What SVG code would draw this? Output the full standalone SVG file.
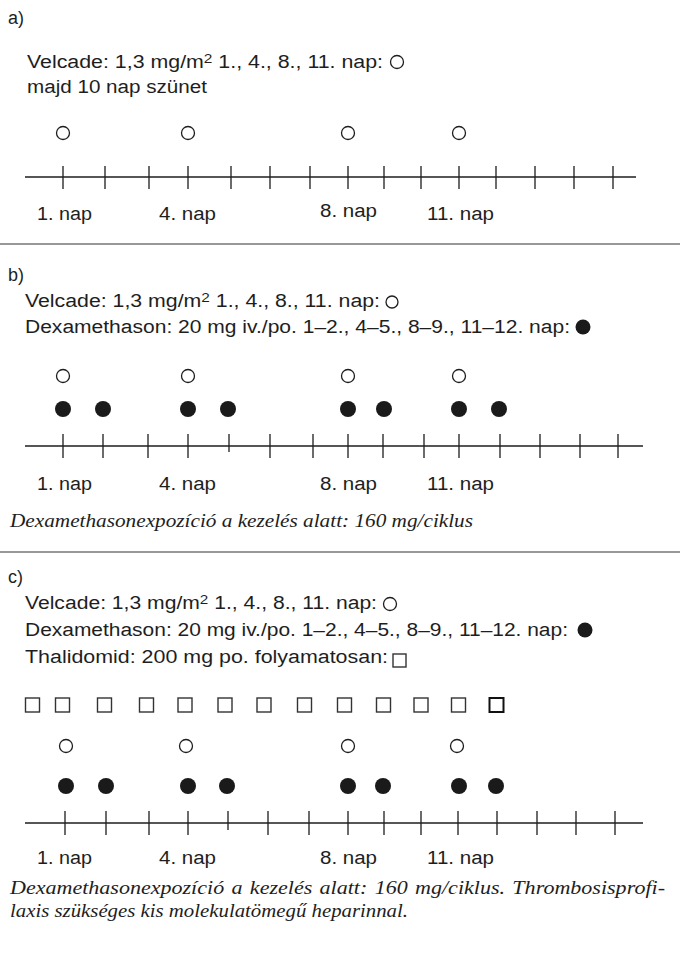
<svg xmlns="http://www.w3.org/2000/svg" width="680" height="956" viewBox="0 0 680 956">
<defs>
<style>
.t{font-family:"Liberation Sans","DejaVu Sans",sans-serif;font-size:18px;fill:#1e1e1e}
.lab{font-family:"Liberation Sans","DejaVu Sans",sans-serif;font-size:18px;fill:#1e1e1e}
.it{font-family:"Liberation Serif","DejaVu Serif",serif;font-style:italic;font-size:18px;fill:#1e1e1e}
.sup{font-size:13px}
.axis{stroke:#1e1e1e;stroke-width:1.3;fill:none}
.sep{stroke:#333;stroke-width:1.2}
.oc{fill:#fff;stroke:#1e1e1e;stroke-width:1.3}
.fc{fill:#1a1a1a}
.sq{fill:#fff;stroke:#333;stroke-width:1.4}
</style>
</defs>
<rect width="680" height="956" fill="#fff"/>

<!-- Panel a -->
<g id="panel-a">
<text class="t" x="8" y="24">a)</text>
<text class="t" x="27" y="68" textLength="356" lengthAdjust="spacingAndGlyphs">Velcade: 1,3 mg/m<tspan class="sup" dy="-5">2</tspan><tspan dy="5"> 1., 4., 8., 11. nap:</tspan></text>
<circle class="oc" cx="397" cy="62" r="6.5"/>
<text class="t" x="27" y="93" textLength="180" lengthAdjust="spacingAndGlyphs">majd 10 nap szünet</text>
<g id="a-velcade">
<circle class="oc" cx="63" cy="133" r="6.5"/>
<circle class="oc" cx="188" cy="133" r="6.5"/>
<circle class="oc" cx="348" cy="133" r="6.5"/>
<circle class="oc" cx="459" cy="133" r="6.5"/>
</g>
<g id="a-axis">
<line class="axis" x1="25" y1="177" x2="636" y2="177"/>
<path class="axis" d="M63,166V189M105,166V189M149,166V189M188,166V189M231,166V189M270,166V189M310,166V189M348,166V189M384,166V189M421,166V189M459,166V189M496,166V189M535,166V189M574,166V189M613,166V189"/>
</g>
<text class="lab" x="37" y="220" textLength="55" lengthAdjust="spacingAndGlyphs">1. nap</text>
<text class="lab" x="159" y="220" textLength="57" lengthAdjust="spacingAndGlyphs">4. nap</text>
<text class="lab" x="320" y="217" textLength="57" lengthAdjust="spacingAndGlyphs">8. nap</text>
<text class="lab" x="427" y="220" textLength="67" lengthAdjust="spacingAndGlyphs">11. nap</text>
</g>

<line class="sep" x1="0" y1="244" x2="680" y2="244"/>

<!-- Panel b -->
<g id="panel-b">
<text class="t" x="8" y="281">b)</text>
<text class="t" x="25" y="307" textLength="355" lengthAdjust="spacingAndGlyphs">Velcade: 1,3 mg/m<tspan class="sup" dy="-5">2</tspan><tspan dy="5"> 1., 4., 8., 11. nap:</tspan></text>
<circle class="oc" cx="392" cy="302" r="6"/>
<text class="t" x="25" y="333" textLength="545" lengthAdjust="spacingAndGlyphs">Dexamethason: 20 mg iv./po. 1–2., 4–5., 8–9., 11–12. nap:</text>
<circle class="fc" cx="583" cy="327" r="7.5"/>
<g id="b-velcade">
<circle class="oc" cx="63" cy="376" r="6.5"/>
<circle class="oc" cx="188" cy="376" r="6.5"/>
<circle class="oc" cx="348" cy="376" r="6.5"/>
<circle class="oc" cx="459" cy="376" r="6.5"/>
</g>
<g id="b-dexa">
<circle class="fc" cx="63" cy="409" r="8"/>
<circle class="fc" cx="103" cy="409" r="8"/>
<circle class="fc" cx="188" cy="409" r="8"/>
<circle class="fc" cx="228" cy="409" r="8"/>
<circle class="fc" cx="348" cy="409" r="8"/>
<circle class="fc" cx="384" cy="409" r="8"/>
<circle class="fc" cx="459" cy="409" r="8"/>
<circle class="fc" cx="499" cy="409" r="8"/>
</g>
<g id="b-axis">
<line class="axis" x1="25" y1="446" x2="643" y2="446"/>
<path class="axis" d="M63,434V458M103,434V458M148,434V458M188,434V458M229,434V452M270,434V458M313,434V458M348,434V458M383,434V458M424,434V458M459,434V458M500,434V458M540,434V458M580,434V458M618,434V458"/>
</g>
<text class="lab" x="37" y="490" textLength="55" lengthAdjust="spacingAndGlyphs">1. nap</text>
<text class="lab" x="159" y="490" textLength="57" lengthAdjust="spacingAndGlyphs">4. nap</text>
<text class="lab" x="320" y="490" textLength="57" lengthAdjust="spacingAndGlyphs">8. nap</text>
<text class="lab" x="427" y="490" textLength="67" lengthAdjust="spacingAndGlyphs">11. nap</text>
<text class="it" x="10" y="527" textLength="463" lengthAdjust="spacingAndGlyphs">Dexamethasonexpozíció a kezelés alatt: 160 mg/ciklus</text>
</g>

<line class="sep" x1="0" y1="552" x2="680" y2="552"/>

<!-- Panel c -->
<g id="panel-c">
<text class="t" x="8" y="583">c)</text>
<text class="t" x="25" y="609" textLength="352" lengthAdjust="spacingAndGlyphs">Velcade: 1,3 mg/m<tspan class="sup" dy="-5">2</tspan><tspan dy="5"> 1., 4., 8., 11. nap:</tspan></text>
<circle class="oc" cx="390" cy="604" r="6.5"/>
<text class="t" x="25" y="636" textLength="543" lengthAdjust="spacingAndGlyphs">Dexamethason: 20 mg iv./po. 1–2., 4–5., 8–9., 11–12. nap:</text>
<circle class="fc" cx="585" cy="630" r="7.5"/>
<text class="t" x="25" y="663" textLength="363" lengthAdjust="spacingAndGlyphs">Thalidomid: 200 mg po. folyamatosan:</text>
<rect class="sq" x="393" y="654" width="13" height="13"/>
<g id="c-thalidomid">
<rect class="sq" x="25.5" y="698" width="14" height="14"/>
<rect class="sq" x="55.5" y="698" width="14" height="14"/>
<rect class="sq" x="97.5" y="698" width="14" height="14"/>
<rect class="sq" x="139.5" y="698" width="14" height="14"/>
<rect class="sq" x="178" y="698" width="14" height="14"/>
<rect class="sq" x="218" y="698" width="14" height="14"/>
<rect class="sq" x="257" y="698" width="14" height="14"/>
<rect class="sq" x="297.5" y="698" width="14" height="14"/>
<rect class="sq" x="337.5" y="698" width="14" height="14"/>
<rect class="sq" x="376.5" y="698" width="14" height="14"/>
<rect class="sq" x="414" y="698" width="14" height="14"/>
<rect class="sq" x="451.5" y="698" width="14" height="14"/>
<rect class="sq" x="489.5" y="698" width="14" height="14" style="stroke:#111;stroke-width:2"/>
</g>
<g id="c-velcade">
<circle class="oc" cx="66" cy="746" r="6.5"/>
<circle class="oc" cx="186" cy="746" r="6.5"/>
<circle class="oc" cx="348" cy="746" r="6.5"/>
<circle class="oc" cx="457" cy="746" r="6.5"/>
</g>
<g id="c-dexa">
<circle class="fc" cx="66" cy="786" r="8"/>
<circle class="fc" cx="106" cy="786" r="8"/>
<circle class="fc" cx="188" cy="786" r="8"/>
<circle class="fc" cx="227" cy="786" r="8"/>
<circle class="fc" cx="348" cy="786" r="8"/>
<circle class="fc" cx="383" cy="786" r="8"/>
<circle class="fc" cx="459" cy="786" r="8"/>
<circle class="fc" cx="496" cy="786" r="8"/>
</g>
<g id="c-axis">
<line class="axis" x1="25" y1="823" x2="643" y2="823"/>
<path class="axis" d="M65,811V835M106,811V835M149,811V835M188,811V835M228,811V830M268,811V835M309,811V835M348,811V835M384,811V835M421,811V835M458,811V835M497,811V835M537,811V835M576,811V835M615,811V835"/>
</g>
<text class="lab" x="37" y="864" textLength="55" lengthAdjust="spacingAndGlyphs">1. nap</text>
<text class="lab" x="159" y="864" textLength="57" lengthAdjust="spacingAndGlyphs">4. nap</text>
<text class="lab" x="320" y="864" textLength="57" lengthAdjust="spacingAndGlyphs">8. nap</text>
<text class="lab" x="427" y="864" textLength="67" lengthAdjust="spacingAndGlyphs">11. nap</text>
<text class="it" x="10" y="894" textLength="655" lengthAdjust="spacingAndGlyphs" style="word-spacing:1.5px">Dexamethasonexpozíció a kezelés alatt: 160 mg/ciklus. Thrombosisprofi-</text>
<text class="it" x="10" y="917" textLength="398" lengthAdjust="spacingAndGlyphs">laxis szükséges kis molekulatömegű heparinnal.</text>
</g>
</svg>
